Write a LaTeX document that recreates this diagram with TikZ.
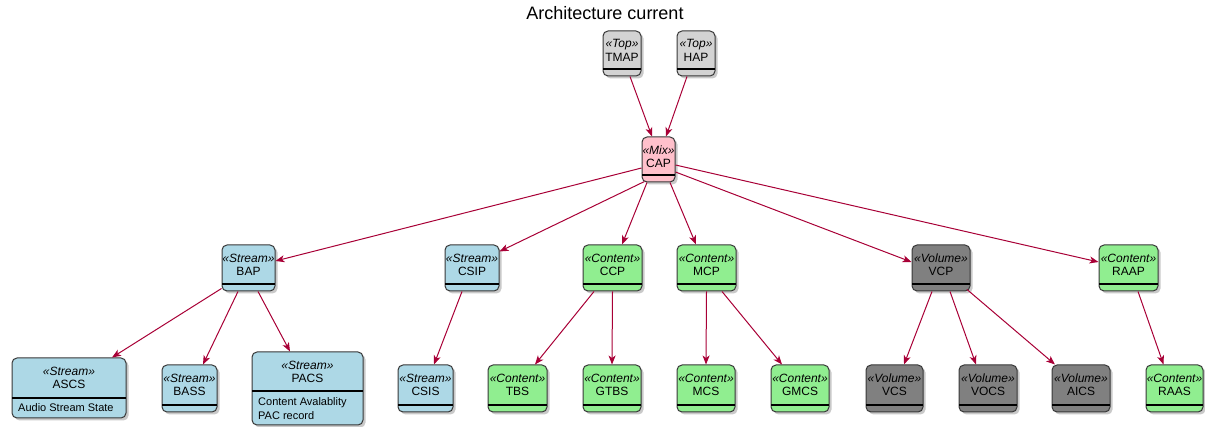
\documentclass[tikz,border=0pt]{standalone}
\usepackage{fontspec}
\setmainfont{Liberation Sans}
\usetikzlibrary{fit,calc,shadows,arrows.meta}
\definecolor{streamc}{HTML}{ADD8E6}
\definecolor{contentc}{HTML}{90EE90}
\definecolor{volumec}{HTML}{808080}
\definecolor{topc}{HTML}{D3D3D3}
\definecolor{mixc}{HTML}{FFC0CB}
\definecolor{borderc}{HTML}{383838}
\definecolor{arrowc}{HTML}{A80036}
\tikzset{
  clsbox/.style={draw=borderc, line width=1pt, rounded corners=5pt, inner sep=0pt,
    drop shadow={shadow xshift=2.5pt, shadow yshift=-2.5pt, fill=black!70, opacity=0.3}},
  streamcls/.style={fill=streamc},
  contentcls/.style={fill=contentc},
  volumecls/.style={fill=volumec},
  topcls/.style={fill=topc},
  mixcls/.style={fill=mixc},
  sepline/.style={draw=black, line width=2pt},
  stereo/.style={font=\fontsize{12}{14}\selectfont\itshape, inner sep=0pt},
  lbl/.style={font=\fontsize{12}{14}\selectfont, inner sep=0pt},
  attr/.style={font=\fontsize{11}{13}\selectfont, inner sep=0pt, anchor=west},
  conn/.style={draw=arrowc, line width=1pt, -{Stealth[length=9pt,width=7pt,inset=2.5pt]}},
  titlef/.style={font=\fontsize{18}{21}\selectfont, inner sep=0pt}
}
\newcommand\umlclass[9]{%
  \node[clsbox,#7,fit={(#2,#3)(#4,#5)}] (#1) {};
  \draw[sepline] (#2,#6) -- (#4,#6);
  \node[stereo] at ($(#1.north)+(0,14)$) {«#8»};
  \node[lbl] at ($(#1.north)+(0,27)$) {#9};
}
\begin{document}
\begin{tikzpicture}[x=1pt,y=-1pt]
\useasboundingbox (0,0) rectangle (1205,427);
\node[titlef] (title) at (605,13) {Architecture current};
% top
\umlclass{TMAP}{603}{31}{641}{76}{69}{topcls}{Top}{TMAP}
\umlclass{HAP}{677}{31}{715}{76}{69}{topcls}{Top}{HAP}
\umlclass{CAP}{642}{137}{675}{182}{175}{mixcls}{Mix}{CAP}
% middle
\umlclass{BAP}{222}{245}{275}{291}{284}{streamcls}{Stream}{BAP}
\umlclass{CSIP}{445}{245}{499}{291}{284}{streamcls}{Stream}{CSIP}
\umlclass{CCP}{583}{245}{642}{291}{284}{contentcls}{Content}{CCP}
\umlclass{MCP}{677}{245}{736}{291}{284}{contentcls}{Content}{MCP}
\umlclass{VCP}{912}{245}{970}{291}{284}{volumecls}{Volume}{VCP}
\umlclass{RAAP}{1099}{245}{1158}{291}{284}{contentcls}{Content}{RAAP}
% bottom
\umlclass{ASCS}{12}{358}{126}{418}{398}{streamcls}{Stream}{ASCS}
\node[attr] (ascsattr) at (18,408) {Audio Stream State};
\umlclass{BASS}{162}{365}{217}{412}{405}{streamcls}{Stream}{BASS}
\umlclass{PACS}{252}{352}{363}{425}{391}{streamcls}{Stream}{PACS}
\node[attr] (pacsattr1) at (258,403) {Content Avalablity};
\node[attr] (pacsattr2) at (258,416) {PAC record};
\umlclass{CSIS}{398}{365}{453}{412}{405}{streamcls}{Stream}{CSIS}
\umlclass{TBS}{488}{365}{547}{412}{405}{contentcls}{Content}{TBS}
\umlclass{GTBS}{583}{365}{641}{412}{405}{contentcls}{Content}{GTBS}
\umlclass{MCS}{677}{365}{735}{412}{405}{contentcls}{Content}{MCS}
\umlclass{GMCS}{771}{365}{829}{412}{405}{contentcls}{Content}{GMCS}
\umlclass{VCS}{866}{365}{923}{412}{405}{volumecls}{Volume}{VCS}
\umlclass{VOCS}{959}{365}{1017}{412}{405}{volumecls}{Volume}{VOCS}
\umlclass{AICS}{1052}{365}{1110}{412}{405}{volumecls}{Volume}{AICS}
\umlclass{RAAS}{1146}{365}{1203}{412}{405}{contentcls}{Content}{RAAS}
% connectors
\draw[conn] ($(TMAP.south)+(8,0)$) -- ($(CAP.north)+(-6.5,0)$);
\draw[conn] ($(HAP.south)+(-9,0)$) -- ($(CAP.north)+(7.5,0)$);
\draw[conn] ($(CAP.west)+(0,8.5)$) -- ($(BAP.east)+(0,-7)$);
\draw[conn] ($(CAP.south west)+(3,-1)$) -- ($(CSIP.north east)+(0,7)$);
\draw[conn] ($(CAP.south)+(-11.5,0)$) -- ($(CCP.north)+(9.5,0)$);
\draw[conn] ($(CAP.south)+(11.5,0)$) -- ($(MCP.north)+(-10.5,0)$);
\draw[conn] ($(CAP.east)+(0,12.5)$) -- ($(VCP.west)+(0,-6)$);
\draw[conn] ($(CAP.east)+(0,5.5)$) -- ($(RAAP.west)+(0,-6)$);
\draw[conn] ($(BAP.south west)+(0,-3)$) -- ($(ASCS.north)+(43,0)$);
\draw[conn] ($(BAP.south)+(-10.5,0)$) -- ($(BASS.north)+(13.5,0)$);
\draw[conn] ($(BAP.south)+(9.5,0)$) -- ($(PACS.north)+(-17.5,0)$);
\draw[conn] ($(CSIP.south)+(-10,0)$) -- ($(CSIS.north)+(8.5,0)$);
\draw[conn] ($(CCP.south)+(-18.5,0)$) -- ($(TBS.north)+(17.5,0)$);
\draw[conn] (CCP.south) -- (GTBS.north);
\draw[conn] (MCP.south) -- (MCS.north);
\draw[conn] ($(MCP.south)+(15.5,0)$) -- ($(GMCS.north)+(-18,0)$);
\draw[conn] ($(VCP.south)+(-9,0)$) -- ($(VCS.north)+(9.5,0)$);
\draw[conn] ($(VCP.south)+(9,0)$) -- ($(VOCS.north)+(-12,0)$);
\draw[conn] ($(VCP.south)+(26,-2)$) -- ($(AICS.north)+(-26,0)$);
\draw[conn] ($(RAAP.south)+(9.5,0)$) -- ($(RAAS.north)+(-11,0)$);
\end{tikzpicture}
\end{document}
